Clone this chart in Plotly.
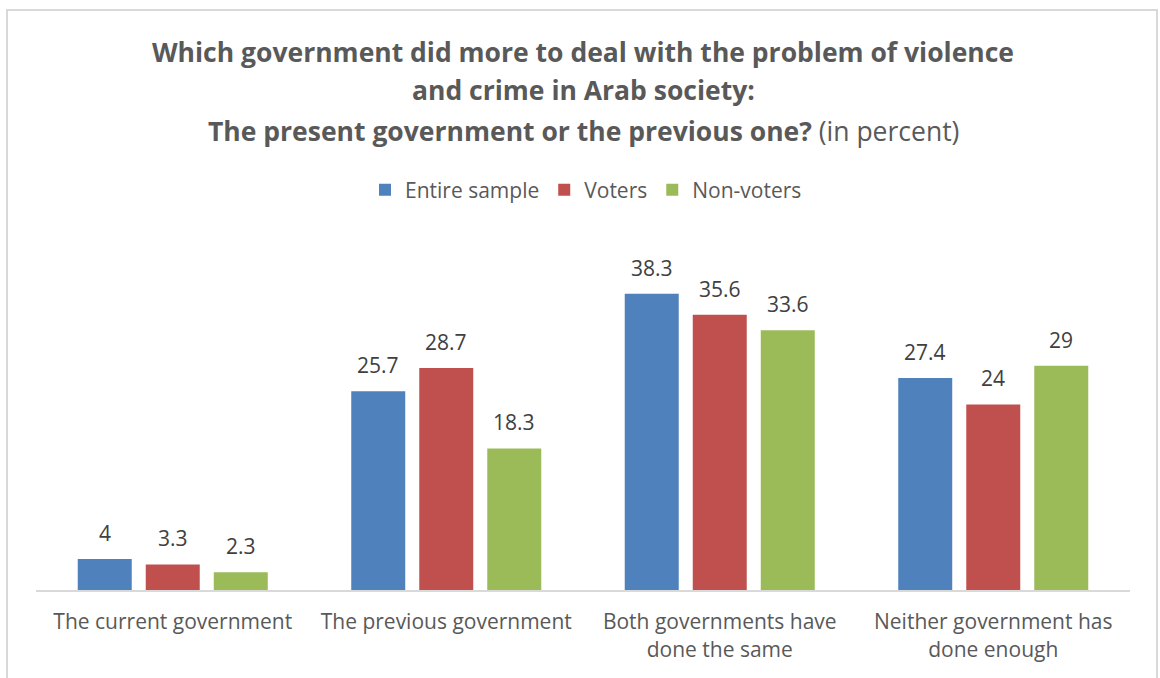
import plotly.graph_objects as go

categories = ["The current government", "The previous government",
              "Both governments have<br>done the same", "Neither government has<br>done enough"]
series_names = ["Entire sample", "Voters", "Non-voters"]
entire_sample = [4, 25.7, 38.3, 27.4]
voters = [3.3, 28.7, 35.6, 24]
non_voters = [2.3, 18.3, 33.6, 29]
colors = ["#4F81BD", "#C0504D", "#9BBB59"]

FONT = "Open Sans"
W, H = 1160, 678
L, R, T, B = 36, 30, 242, 88
PW, PH = W - L - R, H - T - B

def px_x(x):
    return (x - L) / PW

def px_y(y):
    return (H - B - y) / PH

fig = go.Figure()
annotations = []
offsets = [-68, 0, 68]
for name, vals, col, off in zip(series_names, [entire_sample, voters, non_voters], colors, offsets):
    fig.add_trace(go.Bar(
        x=categories, y=vals, name=name, marker=dict(color=col, line=dict(width=0)),
    ))
    for c, v in zip(categories, vals):
        annotations.append(dict(x=c, y=v, xref="x", yref="y", text=f"{v:g}",
                                showarrow=False, xshift=off, yshift=26,
                                xanchor="center", yanchor="middle",
                                font=dict(family=FONT, size=21, color="#404040")))

title_lines = [
    "<b>Which government did more to deal with the problem of violence</b>",
    "<b>and crime in Arab society:</b>",
    "<b>The present government or the previous one?</b> (in percent)",
]
title_y = [52, 90, 131]
for t, y in zip(title_lines, title_y):
    annotations.append(dict(text=t, xref="paper", yref="paper", x=px_x(583), y=px_y(y),
                            xanchor="center", yanchor="middle", showarrow=False,
                            font=dict(family=FONT, size=26.5, color="#595959")))

fig.update_layout(
    width=W, height=H,
    margin=dict(l=L, r=R, t=T, b=B, autoexpand=False),
    paper_bgcolor="white", plot_bgcolor="white",
    barmode="group", bargap=0.254, bargroupgap=0.206,
    showlegend=True,
    legend=dict(orientation="h", x=px_x(586), xanchor="center", y=px_y(190), yanchor="middle",
                font=dict(family=FONT, size=21, color="#595959"), itemwidth=30,
                traceorder="normal"),
    annotations=annotations,
    xaxis=dict(showline=True, linecolor="#d9d9d9", linewidth=2, ticks="",
               ticklabelstandoff=12,
               tickfont=dict(family=FONT, size=21, color="#595959"), showgrid=False),
    yaxis=dict(range=[0, 45], visible=False, showgrid=False, zeroline=False),
    shapes=[dict(type="rect", xref="paper", yref="paper",
                 x0=px_x(7), x1=px_x(1157), y0=px_y(10), y1=px_y(700),
                 line=dict(color="#d9d9d9", width=2), layer="below")],
    font=dict(family=FONT),
)

fig.write_html("out.html", config={"displayModeBar": False},
               post_script="document.body.style.margin='0';")
